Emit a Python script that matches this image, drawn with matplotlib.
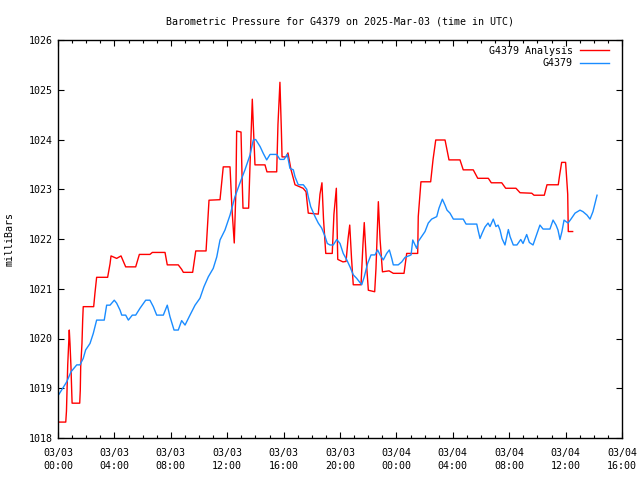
"""
Barometric pressure chart for station G4379 (gnuplot style look).
Saves out.png at 640x480.
"""

import matplotlib
matplotlib.use("Agg")
import matplotlib.pyplot as plt
from matplotlib.ticker import MultipleLocator


# ----------------------------
# Data (hours since 03/03 00:00 UTC, millibars)
# ----------------------------
ANALYSIS_HOURS = [
    0.0, 0.55, 0.60, 0.69, 0.80, 0.85, 0.92, 0.97, 1.0, 1.54, 1.58, 1.61, 1.70, 1.75, 1.79,
    2.53, 2.62, 2.74, 3.52, 3.69, 3.76, 4.16, 4.47, 4.80, 5.51, 5.77, 6.52, 6.69, 7.59,
    7.75, 8.53, 8.77, 8.89, 9.55, 9.77, 10.50, 10.71, 11.49, 11.72, 12.20, 12.34, 12.50,
    12.62, 12.67, 12.98, 13.05, 13.12, 13.52, 13.62, 13.78, 13.85, 13.97, 14.68, 14.82,
    15.51, 15.60, 15.74, 15.84, 15.89, 16.17, 16.31, 16.52, 16.81, 17.38, 17.59, 17.75,
    18.46, 18.58, 18.72, 18.83, 18.99, 19.45, 19.57, 19.74, 19.84, 20.21, 20.43, 20.57,
    20.69, 20.82, 20.94, 21.49, 21.63, 21.72, 21.88, 22.01, 22.46, 22.55, 22.72, 22.84,
    23.01, 23.48, 23.78, 24.54, 24.73, 25.51, 25.55, 25.74, 26.43, 26.60, 26.79, 27.45,
    27.73, 28.51, 28.74, 29.45, 29.77, 30.52, 30.73, 31.47, 31.75, 32.48, 32.77, 33.60,
    33.76, 34.49, 34.68, 35.48, 35.58, 35.72, 36.0, 36.15, 36.19, 36.50,
]
ANALYSIS_MB = [
    1018.32, 1018.32, 1018.54, 1019.47, 1020.17, 1019.90, 1019.43, 1018.96, 1018.70, 1018.70,
    1018.96, 1019.43, 1019.90, 1020.37, 1020.64, 1020.64, 1020.91, 1021.23, 1021.23, 1021.50,
    1021.66, 1021.61, 1021.66, 1021.44, 1021.44, 1021.69, 1021.69, 1021.73, 1021.73, 1021.48,
    1021.48, 1021.39, 1021.33, 1021.33, 1021.76, 1021.76, 1022.78, 1022.79, 1023.45, 1023.45,
    1022.60, 1021.92, 1023.00, 1024.17, 1024.15, 1023.30, 1022.62, 1022.62, 1023.50, 1024.81,
    1024.30, 1023.49, 1023.49, 1023.35, 1023.35, 1024.30, 1025.15, 1024.20, 1023.65, 1023.65,
    1023.73, 1023.40, 1023.09, 1023.02, 1022.95, 1022.52, 1022.50, 1022.90, 1023.13, 1022.40,
    1021.71, 1021.71, 1022.50, 1023.02, 1021.59, 1021.54, 1021.55, 1022.00, 1022.28, 1021.60,
    1021.08, 1021.08, 1021.90, 1022.33, 1021.50, 1020.97, 1020.94, 1021.40, 1022.75, 1022.00,
    1021.34, 1021.36, 1021.31, 1021.31, 1021.71, 1021.71, 1022.45, 1023.15, 1023.15, 1023.60,
    1023.99, 1023.99, 1023.59, 1023.59, 1023.39, 1023.39, 1023.22, 1023.22, 1023.13, 1023.13,
    1023.02, 1023.02, 1022.93, 1022.92, 1022.88, 1022.88, 1023.09, 1023.09, 1023.29, 1023.54,
    1023.54, 1022.90, 1022.15, 1022.15,
]

OBS_HOURS = [
    0.07, 0.62, 0.92, 1.33, 1.56, 1.79, 1.96, 2.27, 2.50, 2.74, 3.28, 3.45, 3.69, 3.99, 4.16,
    4.40, 4.52, 4.80, 4.99, 5.27, 5.51, 5.82, 6.22, 6.52, 6.76, 7.00, 7.47, 7.75, 7.94, 8.23,
    8.53, 8.77, 9.01, 9.36, 9.72, 10.07, 10.35, 10.66, 11.01, 11.26, 11.49, 11.84, 12.20,
    12.55, 12.91, 13.26, 13.62, 13.85, 14.02, 14.33, 14.56, 14.80, 15.04, 15.51, 15.74,
    16.03, 16.26, 16.45, 16.69, 16.81, 17.04, 17.40, 17.64, 17.75, 17.92, 18.23, 18.46,
    18.70, 18.94, 19.10, 19.29, 19.52, 19.77, 20.00, 20.23, 20.48, 20.71, 20.94, 21.18,
    21.54, 21.72, 21.96, 22.20, 22.48, 22.67, 22.84, 23.07, 23.31, 23.50, 23.67, 23.78,
    24.13, 24.38, 24.61, 25.04, 25.16, 25.32, 25.44, 25.55, 25.79, 26.03, 26.26, 26.50,
    26.86, 27.02, 27.26, 27.45, 27.59, 27.80, 28.04, 28.74, 28.94, 29.70, 29.79, 29.93,
    30.07, 30.28, 30.50, 30.64, 30.87, 31.06, 31.21, 31.35, 31.49, 31.70, 31.94, 32.06,
    32.29, 32.55, 32.82, 32.98, 33.24, 33.43, 33.69, 33.90, 34.18, 34.40, 34.89, 35.11,
    35.32, 35.46, 35.60, 35.74, 35.89, 36.03, 36.17, 36.38, 36.67, 37.02, 37.23, 37.52,
    37.73, 37.94, 38.09, 38.23,
]
OBS_MB = [
    1018.88, 1019.13, 1019.33, 1019.47, 1019.47, 1019.60, 1019.77, 1019.90, 1020.10, 1020.37,
    1020.37, 1020.67, 1020.67, 1020.77, 1020.71, 1020.57, 1020.47, 1020.47, 1020.37, 1020.47,
    1020.47, 1020.61, 1020.77, 1020.77, 1020.64, 1020.47, 1020.47, 1020.67, 1020.44, 1020.17,
    1020.17, 1020.36, 1020.27, 1020.47, 1020.67, 1020.81, 1021.04, 1021.24, 1021.41, 1021.64,
    1021.98, 1022.18, 1022.48, 1022.85, 1023.13, 1023.39, 1023.69, 1023.99, 1024.00, 1023.86,
    1023.72, 1023.59, 1023.70, 1023.70, 1023.60, 1023.60, 1023.70, 1023.42, 1023.39, 1023.25,
    1023.09, 1023.09, 1023.00, 1022.85, 1022.65, 1022.45, 1022.32, 1022.22, 1022.05, 1021.91,
    1021.88, 1021.88, 1021.99, 1021.91, 1021.71, 1021.58, 1021.44, 1021.28, 1021.21, 1021.08,
    1021.24, 1021.51, 1021.68, 1021.68, 1021.78, 1021.68, 1021.58, 1021.71, 1021.78, 1021.61,
    1021.48, 1021.48, 1021.54, 1021.63, 1021.68, 1021.98, 1021.88, 1021.81, 1021.95, 1022.05,
    1022.15, 1022.32, 1022.40, 1022.45, 1022.62, 1022.80, 1022.68, 1022.58, 1022.52, 1022.40,
    1022.40, 1022.30, 1022.30, 1022.18, 1022.01, 1022.11, 1022.24, 1022.32, 1022.25, 1022.40,
    1022.25, 1022.28, 1022.18, 1022.01, 1021.88, 1022.19, 1022.05, 1021.88, 1021.88, 1021.99,
    1021.91, 1022.09, 1021.93, 1021.88, 1022.05, 1022.28, 1022.20, 1022.20, 1022.38, 1022.28,
    1022.18, 1021.99, 1022.15, 1022.38, 1022.35, 1022.32, 1022.40, 1022.52, 1022.58, 1022.55,
    1022.48, 1022.40, 1022.55, 1022.72, 1022.88,
]

X_TICK_HOURS = [0, 4, 8, 12, 16, 20, 24, 28, 32, 36, 40]
X_TICK_LABELS = [
    "03/03\n00:00", "03/03\n04:00", "03/03\n08:00", "03/03\n12:00", "03/03\n16:00",
    "03/03\n20:00", "03/04\n00:00", "03/04\n04:00", "03/04\n08:00", "03/04\n12:00",
    "03/04\n16:00",
]
Y_TICKS = [1018, 1019, 1020, 1021, 1022, 1023, 1024, 1025, 1026]

TITLE = "Barometric Pressure for G4379 on 2025-Mar-03 (time in UTC)"
FONT = "DejaVu Sans Mono"
FSIZE = 7.2


def main() -> None:
    plt.rcParams["font.family"] = FONT
    plt.rcParams["font.size"] = FSIZE

    fig = plt.figure(figsize=(6.4, 4.8), dpi=100)
    ax = fig.add_axes([58 / 640, 42 / 480, 564 / 640, 398 / 480])

    ax.plot(ANALYSIS_HOURS, ANALYSIS_MB, color="#ff0000", lw=1.0, label="G4379 Analysis")
    ax.plot(OBS_HOURS, OBS_MB, color="#1a8cff", lw=1.0, label="G4379")

    ax.set_xlim(0, 40)
    ax.set_ylim(1018, 1026)
    ax.set_xticks(X_TICK_HOURS)
    ax.set_xticklabels(X_TICK_LABELS, linespacing=1.45)
    ax.xaxis.set_minor_locator(MultipleLocator(1))
    ax.set_yticks(Y_TICKS)

    ax.tick_params(which="both", direction="in", top=True, right=True, color="black", width=0.8)
    ax.tick_params(which="major", length=4.5, pad=4)
    ax.tick_params(axis="x", which="major", pad=7)
    ax.tick_params(which="minor", length=2.5)
    for sp in ax.spines.values():
        sp.set_linewidth(1.0)
        sp.set_color("black")

    ax.set_title(TITLE, fontsize=FSIZE, pad=11)
    ax.set_ylabel("milliBars", fontsize=FSIZE, labelpad=10)

    ax.legend(
        loc="upper right", frameon=False, markerfirst=False, fontsize=FSIZE,
        handlelength=2.9, handletextpad=0.75, labelspacing=0.25,
        borderaxespad=0.2, bbox_to_anchor=(0.988, 1.0),
    )
    for t in ax.get_legend().get_texts():
        t.set_ha("right")

    fig.savefig("out.png", dpi=100)
    plt.close(fig)


if __name__ == "__main__":
    main()
